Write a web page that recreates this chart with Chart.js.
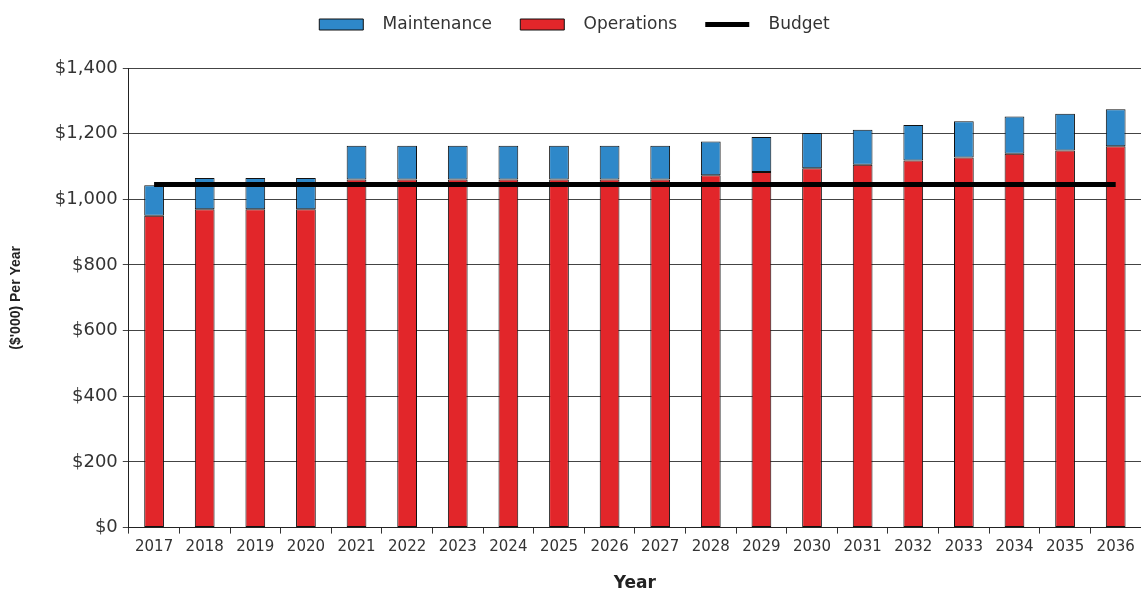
<!DOCTYPE html>
<html lang="en">
<head>
  <meta charset="UTF-8">
  <title>Budget vs cost per year</title>
  <style>
    body { margin: 0; background: #fff; }
    #wrap { width: 1141px; height: 594px; }
  </style>
</head>
<body>
  <div id="wrap">
    <canvas id="graphic"></canvas>
  </div>

  <script src="https://cdn.jsdelivr.net/npm/chart.js"></script>
  <script>
    const years = ["2017", "2018", "2019", "2020", "2021", "2022", "2023", "2024", "2025", "2026",
                   "2027", "2028", "2029", "2030", "2031", "2032", "2033", "2034", "2035", "2036"];
    const operations = [950, 970, 970, 970, 1060, 1060, 1060, 1060, 1060, 1060,
                        1060, 1073, 1083, 1095, 1105, 1118, 1127, 1139, 1149, 1162];
    const maintenance = [93, 95, 95, 95, 103, 103, 103, 103, 103, 103,
                         103, 103, 107, 107, 107, 108, 111, 113, 112, 112];
    const budget = [1045, 1045, 1045, 1045, 1045, 1045, 1045, 1045, 1045, 1045,
                    1045, 1045, 1045, 1045, 1045, 1045, 1045, 1045, 1045, 1045];
    const legendOrder = ["Maintenance", "Operations", "Budget"];

    const fontMain = "'DejaVu Sans', Verdana, sans-serif";
    const fontTitle = "'Liberation Sans', Arial, sans-serif";

    // un poco de aire debajo de la leyenda
    const legendMargin = {
      id: 'legendMargin',
      beforeInit(chart) {
        const fit = chart.legend.fit;
        chart.legend.fit = function () {
          fit.bind(chart.legend)();
          this.height += 25;
        };
      }
    };

    const lienzo = document.getElementById("graphic");

    new Chart(lienzo, {
      type: 'bar',
      data: {
        labels: years,
        datasets: [
          {
            label: 'Operations',
            data: operations,
            backgroundColor: '#E2262A',
            borderColor: '#111',
            borderWidth: 1,
            borderSkipped: false,
            barPercentage: 0.39,
            categoryPercentage: 1
          },
          {
            label: 'Maintenance',
            data: maintenance,
            backgroundColor: '#2E88C9',
            borderColor: '#111',
            borderWidth: 1,
            borderSkipped: false,
            barPercentage: 0.39,
            categoryPercentage: 1
          },
          {
            type: 'line',
            label: 'Budget',
            data: budget,
            stack: 'budget',
            borderColor: '#000',
            backgroundColor: '#000',
            borderWidth: 5,
            pointRadius: 0,
            borderCapStyle: 'butt',
            order: -1
          }
        ]
      },
      options: {
        responsive: true,
        maintainAspectRatio: false,
        animation: false,
        layout: { padding: { top: 4, right: 0, left: 8, bottom: 0 } },
        plugins: {
          tooltip: { enabled: false },
          legend: {
            position: 'top',
            labels: {
              usePointStyle: true,
              pointStyleWidth: 44,
              boxHeight: 11,
              padding: 12,
              color: '#333',
              font: { family: fontMain, size: 17 },
              generateLabels(chart) {
                const items = Chart.defaults.plugins.legend.labels.generateLabels(chart);
                items.forEach(it => {
                  const name = it.text;
                  if (name === 'Budget') {
                    it.pointStyle = 'line';
                    it.lineWidth = 5;
                    it.strokeStyle = '#000';
                    it.text = '  ' + name;
                  } else {
                    it.pointStyle = 'rect';
                    it.lineWidth = 1;
                    it.text = '  ' + name + '   ';
                  }
                });
                return items;
              },
              sort: (a, b) => legendOrder.indexOf(a.text.trim()) - legendOrder.indexOf(b.text.trim())
            }
          }
        },
        scales: {
          x: {
            stacked: true,
            offset: true,
            grid: { offset: true, drawOnChartArea: false, drawTicks: true, tickLength: 6, color: '#333' },
            border: { color: '#222', width: 1 },
            ticks: { color: '#333', padding: 5, maxRotation: 0, font: { family: fontMain, size: 15 } },
            title: {
              display: true,
              text: 'Year',
              color: '#222',
              padding: { top: 12, bottom: 0 },
              font: { family: fontMain, size: 17, weight: 'bold' }
            }
          },
          y: {
            stacked: true,
            min: 0,
            max: 1400,
            grid: { color: '#444', tickLength: 6 },
            border: { color: '#222', width: 1 },
            ticks: {
              stepSize: 200,
              color: '#333',
              padding: 5,
              font: { family: fontMain, size: 18 },
              callback: v => '$' + v.toLocaleString('en-US')
            },
            title: {
              display: true,
              text: "($'000) Per Year",
              color: '#222',
              padding: { top: 0, bottom: 25 },
              font: { family: fontTitle, size: 14, weight: 'bold' }
            }
          }
        }
      },
      plugins: [legendMargin]
    });
  </script>
</body>
</html>
